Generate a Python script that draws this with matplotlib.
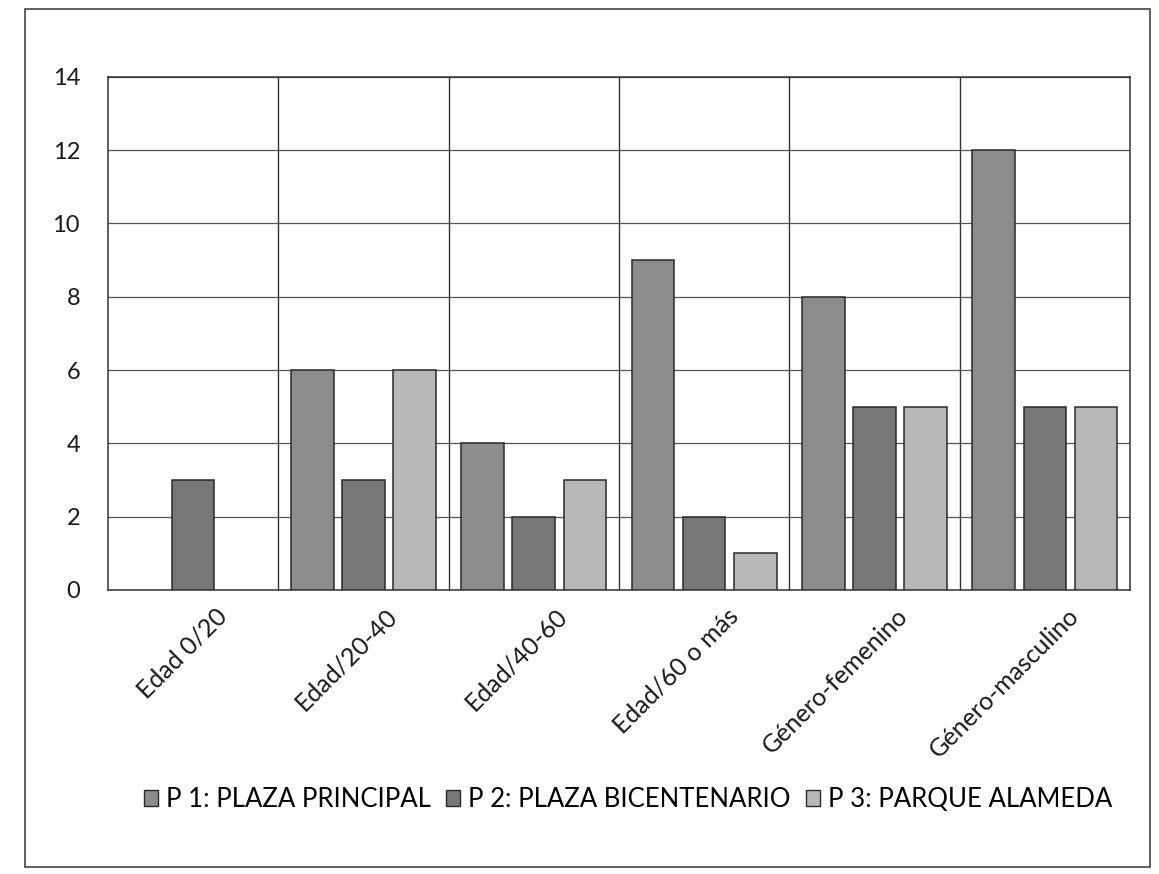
import numpy as np
import matplotlib
matplotlib.use("Agg")
import matplotlib.pyplot as plt
import matplotlib.transforms as mtransforms
from matplotlib.patches import Rectangle

plt.rcParams["font.family"] = ["Lato", "DejaVu Sans"]

categorias = ["Edad 0/20", "Edad/20-40", "Edad/40-60", "Edad/60 o más",
              "Género-femenino", "Género-masculino"]
series = ["P 1: PLAZA PRINCIPAL", "P 2: PLAZA BICENTENARIO", "P 3: PARQUE ALAMEDA"]
p1 = [0, 6, 4, 9, 8, 12]
p2 = [3, 3, 2, 2, 5, 5]
p3 = [0, 6, 3, 1, 5, 5]
colores = ["#8c8c8c", "#777777", "#b8b8b8"]

fig = plt.figure(figsize=(11.59, 8.74), dpi=100)
ax = fig.add_axes([0.093, 0.325, 0.882, 0.587])

x = np.arange(len(categorias))
ancho = 0.25
paso = 0.30
for i, (vals, nombre, col) in enumerate(zip([p1, p2, p3], series, colores)):
    # sin borde para las barras en cero
    bordes = [1.1 if v else 0 for v in vals]
    ax.bar(x + (i - 1) * paso, vals, ancho, color=col, edgecolor="#2a2a2a",
           linewidth=bordes, label=nombre, zorder=3)

ax.set_xlim(-0.5, len(categorias) - 0.5)
ax.set_ylim(0, 14)
ax.set_yticks(range(0, 15, 2))
ax.set_xticks([])
ax.set_xticks(np.arange(0.5, len(categorias) - 0.5, 1), minor=True)
ax.tick_params(axis="y", length=0, pad=20, labelsize=17, labelcolor="#1a1a1a")
ax.tick_params(axis="x", which="both", length=0, labelbottom=False)

# etiquetas de categoría giradas 45°, algo corridas a la derecha
desplaza = mtransforms.ScaledTranslation(30 / 100, -22 / 100, fig.dpi_scale_trans)
for xi, cat in zip(x, categorias):
    ax.text(xi, 0, cat, transform=ax.get_xaxis_transform() + desplaza,
            rotation=45, rotation_mode="anchor", ha="right", va="center",
            fontsize=18, color="#1a1a1a")

ax.grid(axis="y", color="#555555", linewidth=0.9, zorder=0)
ax.grid(axis="x", which="minor", color="#333333", linewidth=1.0, zorder=0)
for s in ax.spines.values():
    s.set_color("#333333")
    s.set_linewidth(1.1)

leg = ax.legend(loc="center", bbox_to_anchor=(0.542, 0.085), bbox_transform=fig.transFigure,
                ncol=3, frameon=False, fontsize=18.5, handlelength=0.55, handleheight=0.55,
                handletextpad=0.3, columnspacing=0.6)
for h in leg.legend_handles:
    h.set_linewidth(1.0)
    h.set_edgecolor("#2a2a2a")

# borde del área del gráfico
fig.patches.append(Rectangle((0.022, 0.008), 0.97, 0.982, transform=fig.transFigure,
                             fill=False, edgecolor="#444444", linewidth=1.2))

fig.savefig("out.png", dpi=100, facecolor="white")
